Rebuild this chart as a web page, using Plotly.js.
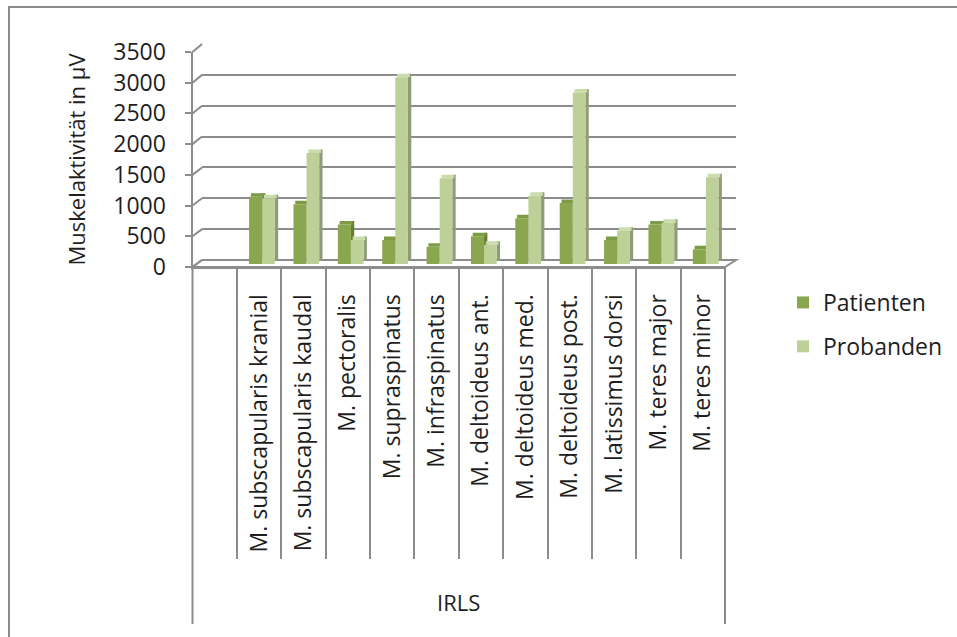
<!DOCTYPE html>
<html>
<head>
<meta charset="utf-8">
<script src="https://cdn.plot.ly/plotly-3.0.1.min.js"></script>
<style>
  html, body { margin: 0; padding: 0; background: #fff; }
  #chart { width: 957px; height: 637px; }
</style>
</head>
<body>
<div id="chart"></div>
<script>
// Muscle activity (µV) per muscle, grouped under the IRLS condition
const muscles = [
  'M. subscapularis kranial',
  'M. subscapularis kaudal',
  'M. pectoralis',
  'M. supraspinatus',
  'M. infraspinatus',
  'M. deltoideus ant.',
  'M. deltoideus med.',
  'M. deltoideus post.',
  'M. latissimus dorsi',
  'M. teres major',
  'M. teres minor'
];
const patienten = [1090, 970, 640, 390, 280, 450, 740, 990, 390, 640, 240];
const probanden = [1065, 1800, 390, 3025, 1390, 310, 1105, 2780, 540, 670, 1405];
const yTicks = [0, 500, 1000, 1500, 2000, 2500, 3000, 3500];
const groupLabel = 'IRLS';
const seriesNames = ['Patienten', 'Probanden'];
const yTitle = 'Muskelaktivität in µV';

// ---- geometry of the pseudo-3D frame (pixels) ----
const W = 957, H = 637;
const px = x => x / W;
const py = y => 1 - y / H;
const FRONT = { left: 192.5, right: 725, bottom: 267, top: 52 };
const BACK  = { left: 202, right: 736, bottom: 260, top: 44 };
const BAR   = { bottom: 264, top: 48 };
const DIVIDER_BOTTOM = 559, BOX_BOTTOM = 624;
const Y_MAX = 3500;
const DEPTH_PX = 3.5;
const depthUnits = DEPTH_PX * Y_MAX / (BAR.bottom - BAR.top);

const GRID = '#8c8c8c';
const FONT = 'Open Sans, Noto Sans, sans-serif';
const TEXT = '#1e1e1e';

const colors = {
  patFront: '#8aa64f', patTop: '#7d9a44', patSide: '#66802f',
  proFront: '#bcd098', proTop: '#cadcab', proSide: '#8e9d78'
};

// each bar: front face, top face and right side face
function face(y, base, offset, width, color, name, group, legend) {
  return {
    type: 'bar', x: muscles, y: y, base: base,
    offset: offset, width: width,
    marker: { color: color, line: { width: 0 } },
    xaxis: 'x2', yaxis: 'y4',
    name: name, legendgroup: group, showlegend: legend,
    hoverinfo: legend ? 'x+y+name' : 'skip'
  };
}
const depthArr = arr => arr.map(() => depthUnits);

// empty placeholder so an axis pair gets its own subplot (grid / axis only)
function axisHolder(xa, ya) {
  return { type: 'scatter', mode: 'markers', x: [null], y: [null], xaxis: xa, yaxis: ya,
           showlegend: false, hoverinfo: 'skip' };
}

const traces = [
  axisHolder('x', 'y'),
  axisHolder('x3', 'y3'),
  axisHolder('x2', 'y2'),
  face(patienten, depthArr(patienten), 0.07, 0.075, colors.patSide, seriesNames[0], 'g1', false),
  face(depthArr(patienten), patienten, -0.185, 0.295, colors.patTop, seriesNames[0], 'g1', false),
  face(patienten, undefined, -0.225, 0.295, colors.patFront, seriesNames[0], 'g1', true),
  face(probanden, depthArr(probanden), 0.355, 0.075, colors.proSide, seriesNames[1], 'g2', false),
  face(depthArr(probanden), probanden, 0.11, 0.285, colors.proTop, seriesNames[1], 'g2', false),
  face(probanden, undefined, 0.07, 0.285, colors.proFront, seriesNames[1], 'g2', true)
];

// diagonal connectors from the front value axis to the back-wall gridlines
const frontY = v => FRONT.bottom - v * (FRONT.bottom - FRONT.top) / Y_MAX;
const backY = v => BACK.bottom - v * (BACK.bottom - BACK.top) / Y_MAX;
const line = { color: GRID, width: 2 };

const shapes = [
  // outer chart frame
  { type: 'rect', xref: 'paper', yref: 'paper', x0: px(9), y0: py(7), x1: px(1000), y1: py(700),
    line: { color: GRID, width: 2 }, fillcolor: 'rgba(0,0,0,0)', layer: 'below' },
  // floor
  { type: 'path', xref: 'paper', yref: 'paper', layer: 'below',
    path: `M${px(FRONT.left)},${py(FRONT.bottom)} L${px(FRONT.right)},${py(FRONT.bottom)} ` +
          `L${px(BACK.right)},${py(BACK.bottom)} L${px(BACK.left)},${py(BACK.bottom)} Z`,
    fillcolor: '#ffffff', line: line },
  // group box sides
  { type: 'line', xref: 'paper', yref: 'paper', x0: px(FRONT.left), x1: px(FRONT.left),
    y0: py(FRONT.bottom), y1: py(BOX_BOTTOM), line: line },
  { type: 'line', xref: 'paper', yref: 'paper', x0: px(FRONT.right), x1: px(FRONT.right),
    y0: py(FRONT.bottom), y1: py(BOX_BOTTOM), line: line }
].concat(yTicks.map(v => ({
  type: 'line', xref: 'paper', yref: 'paper', layer: 'below',
  x0: px(FRONT.left), y0: py(frontY(v)), x1: px(BACK.left), y1: py(backY(v)), line: line
})));

const layout = {
  width: W, height: H,
  margin: { l: 0, r: 0, t: 0, b: 0 },
  paper_bgcolor: '#ffffff', plot_bgcolor: 'rgba(0,0,0,0)',
  barmode: 'overlay',
  font: { family: FONT, color: TEXT, size: 23 },
  showlegend: true,
  legend: {
    x: px(783), y: py(281), xanchor: 'left', yanchor: 'top',
    font: { family: FONT, size: 23, color: TEXT },
    bgcolor: 'rgba(0,0,0,0)', tracegroupgap: 11, traceorder: 'grouped'
  },
  // back wall gridlines
  xaxis: { domain: [px(BACK.left), px(BACK.right)], range: [0, 1], visible: false, anchor: 'y', fixedrange: true },
  yaxis: { domain: [py(BACK.bottom), py(BACK.top)], range: [0, Y_MAX], anchor: 'x',
    tickvals: yTicks, showgrid: true, gridcolor: GRID, gridwidth: 2,
    zeroline: false, showline: false, ticks: '', showticklabels: false, fixedrange: true },
  // category axis with rotated muscle names
  xaxis2: { domain: [px(FRONT.left), px(FRONT.right)], anchor: 'y2', type: 'category',
    categoryorder: 'array', categoryarray: muscles, range: [-1.5, muscles.length - 0.5],
    showline: true, linecolor: GRID, linewidth: 2, showgrid: false, zeroline: false,
    ticks: 'outside', ticklen: 16, tickcolor: 'rgba(0,0,0,0)', tickangle: -90,
    tickfont: { family: FONT, size: 23, color: TEXT }, fixedrange: true },
  // front value axis
  yaxis2: { domain: [py(FRONT.bottom), py(FRONT.top)], anchor: 'x2', range: [0, Y_MAX],
    tickvals: yTicks, tickformat: 'd', ticks: 'outside', ticklen: 6, tickwidth: 2, tickcolor: GRID,
    showline: true, linecolor: GRID, linewidth: 2, showgrid: false, zeroline: false,
    ticklabelstandoff: 14,
    tickfont: { family: FONT, size: 23, color: TEXT },
    title: { text: yTitle, font: { family: FONT, size: 22, color: TEXT }, standoff: 22 },
    fixedrange: true },
  // dividers between the category labels
  xaxis3: { domain: [px(FRONT.left), px(FRONT.right)], anchor: 'y3', type: 'category',
    categoryorder: 'array', categoryarray: muscles, range: [-1.5, muscles.length - 0.5],
    tickson: 'boundaries', showgrid: true, gridcolor: GRID, gridwidth: 2,
    showticklabels: false, ticks: '', showline: false, zeroline: false, fixedrange: true },
  yaxis3: { domain: [py(DIVIDER_BOTTOM), py(FRONT.bottom)], anchor: 'x3', range: [0, 1], visible: false, fixedrange: true },
  // scale the bars stand on (mid-depth)
  yaxis4: { domain: [py(BAR.bottom), py(BAR.top)], anchor: 'x2', range: [0, Y_MAX], visible: false, fixedrange: true },
  shapes: shapes,
  annotations: [{
    text: groupLabel, xref: 'paper', yref: 'paper',
    x: px((FRONT.left + FRONT.right) / 2), y: py(602),
    xanchor: 'center', yanchor: 'middle', showarrow: false,
    font: { family: FONT, size: 22, color: TEXT }
  }]
};

Plotly.newPlot('chart', traces, layout, { displayModeBar: false, staticPlot: true });
</script>
</body>
</html>
